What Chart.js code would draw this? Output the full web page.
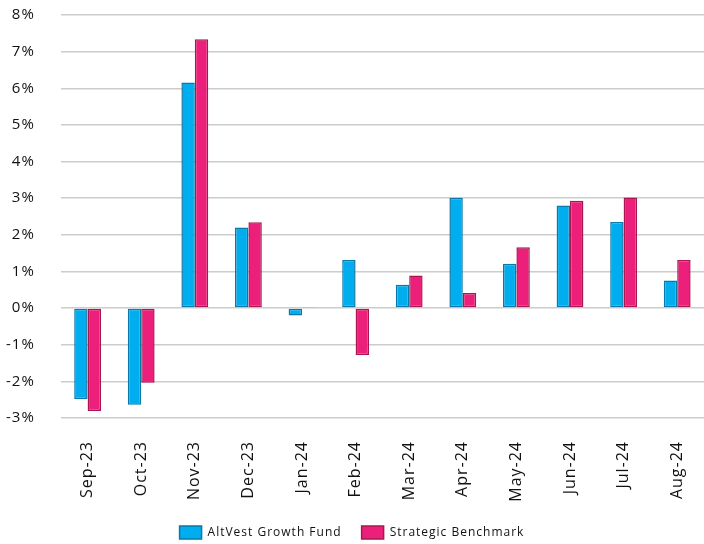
<!DOCTYPE html>
<html>
<head>
<meta charset="utf-8">
<script src="https://cdn.jsdelivr.net/npm/chart.js@4"></script>
<style>
html,body{margin:0;padding:0;background:#fff;}
#wrap{width:704px;height:544px;}
</style>
</head>
<body>
<div id="wrap"><canvas id="c" width="704" height="544"></canvas></div>
<script>
const categories = ["Sep-23","Oct-23","Nov-23","Dec-23","Jan-24","Feb-24","Mar-24","Apr-24","May-24","Jun-24","Jul-24","Aug-24"];
const fundValues = [-2.48,-2.64,6.16,2.20,-0.20,1.31,0.64,3.01,1.21,2.80,2.35,0.75];
const benchmarkValues = [-2.81,-2.04,7.34,2.34,0.03,-1.28,0.89,0.41,1.66,2.93,3.02,1.31];
const seriesNames = ["AltVest Growth Fund","Strategic Benchmark"];

const FONT = "'Open Sans', 'DejaVu Sans', sans-serif";
const spacing = {
  id: 'spacing',
  afterInit(chart) { chart.ctx.letterSpacing = '1px'; },
  beforeUpdate(chart) { chart.ctx.letterSpacing = '1px'; },
  beforeDraw(chart) { chart.ctx.letterSpacing = '1px'; }
};
new Chart(document.getElementById('c'), {
  type: 'bar',
  plugins: [spacing],
  data: {
    labels: categories,
    datasets: [
      {label: seriesNames[0], data: fundValues, backgroundColor: '#00AEEF', borderColor: '#0A78A8', borderWidth: 1.5, borderSkipped: false},
      {label: seriesNames[1], data: benchmarkValues, backgroundColor: '#EC1F7A', borderColor: '#A8174F', borderWidth: 1.5, borderSkipped: false}
    ]
  },
  options: {
    responsive: false,
    animation: false,
    devicePixelRatio: 1,
    layout: {padding: {top: 3, right: 0, left: 0, bottom: -5}},
    datasets: {bar: {categoryPercentage: 0.5, barPercentage: 1.0}},
    scales: {
      x: {
        afterFit(scale) { scale.height = 88; },
        grid: {display: true, drawOnChartArea: false, color: 'rgba(0,0,0,0)', drawTicks: true, tickLength: 19},
        border: {display: false},
        ticks: {color: '#111', font: {family: FONT, size: 16}, maxRotation: 90, minRotation: 90, padding: 4}
      },
      y: {
        min: -3, max: 8,
        grid: {color: '#cccccc', lineWidth: 1.5, drawTicks: true, tickLength: 20, tickColor: 'rgba(0,0,0,0)'},
        border: {display: false},
        ticks: {stepSize: 1, color: '#111', font: {family: FONT, size: 15}, padding: 6, callback: v => v + '%'}
      }
    },
    plugins: {
      legend: {
        position: 'bottom',
        labels: {boxWidth: 22, boxHeight: 13, color: '#111', font: {family: FONT, size: 12}, padding: 20}
      },
      tooltip: {enabled: false}
    }
  }
});
</script>
</body>
</html>
